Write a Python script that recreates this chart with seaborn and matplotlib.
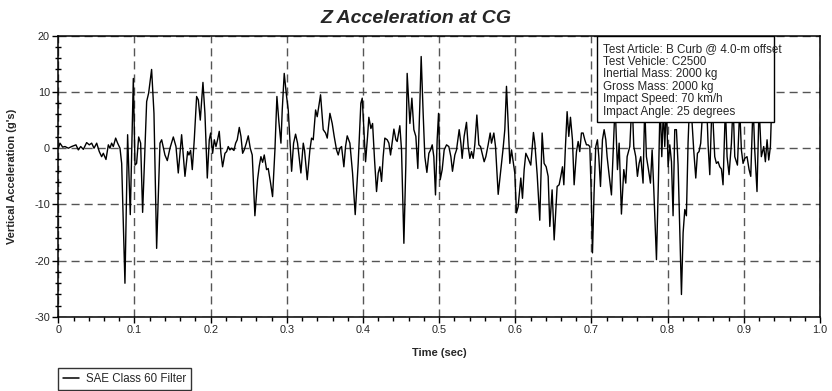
import numpy as np
import pandas as pd
import matplotlib
matplotlib.use("Agg")
import matplotlib.pyplot as plt
from matplotlib.patches import Rectangle
from matplotlib.ticker import MultipleLocator
import seaborn as sns

# ---------------- data ----------------
time_s = [
    0.0000, 0.0022, 0.0057, 0.0088, 0.0132, 0.0175, 0.0232, 0.0263, 0.0294, 0.0329,
    0.0372, 0.0407, 0.0438, 0.0469, 0.0504, 0.0538, 0.0569, 0.0591, 0.0626, 0.0657,
    0.0678, 0.0700, 0.0722, 0.0753, 0.0779, 0.0810, 0.0832, 0.0875, 0.0910, 0.0945,
    0.0985, 0.1007, 0.1028, 0.1055, 0.1081, 0.1107, 0.1160, 0.1186, 0.1225, 0.1256,
    0.1291, 0.1335, 0.1357, 0.1400, 0.1431, 0.1466, 0.1510, 0.1545,
    0.1575, 0.1619, 0.1663, 0.1698, 0.1715, 0.1737, 0.1759, 0.1785, 0.1816, 0.1838,
    0.1864, 0.1899, 0.1925, 0.1956, 0.1982, 0.2000, 0.2026, 0.2048, 0.2070, 0.2091,
    0.2113, 0.2135, 0.2157, 0.2188, 0.2210, 0.2231, 0.2253, 0.2275, 0.2306, 0.2328,
    0.2349, 0.2376, 0.2398, 0.2420, 0.2441, 0.2468, 0.2494, 0.2520, 0.2546, 0.2581,
    0.2616, 0.2638, 0.2660, 0.2682, 0.2704, 0.2734, 0.2756, 0.2787, 0.2813, 0.2844,
    0.2870, 0.2896, 0.2923, 0.2940, 0.2966, 0.2997, 0.3019, 0.3041, 0.3063, 0.3089,
    0.3115, 0.3141, 0.3185,
    0.3216, 0.3233, 0.3268, 0.3303, 0.3325, 0.3347, 0.3378, 0.3399, 0.3443, 0.3478,
    0.3509, 0.3531, 0.3566, 0.3596, 0.3622, 0.3653, 0.3675, 0.3697, 0.3719, 0.3749,
    0.3771, 0.3793, 0.3828, 0.3863, 0.3898, 0.3937, 0.3972, 0.3990, 0.4012, 0.4034,
    0.4060, 0.4077, 0.4104, 0.4126, 0.4152, 0.4178, 0.4200, 0.4222, 0.4244, 0.4265,
    0.4287, 0.4318, 0.4340, 0.4362, 0.4388, 0.4406, 0.4432, 0.4449, 0.4484, 0.4506,
    0.4537, 0.4563, 0.4580, 0.4616, 0.4642, 0.4668, 0.4694, 0.4720, 0.4747, 0.4764,
    0.4790, 0.4812, 0.4839,
    0.4865, 0.4887, 0.4909, 0.4930, 0.4952, 0.4974, 0.4992, 0.5014, 0.5040, 0.5066,
    0.5097, 0.5127, 0.5154, 0.5175, 0.5206, 0.5228, 0.5263, 0.5285, 0.5302, 0.5328,
    0.5359, 0.5381, 0.5403, 0.5425, 0.5447, 0.5468, 0.5495, 0.5521, 0.5543, 0.5565,
    0.5591, 0.5613, 0.5643, 0.5670, 0.5687, 0.5718, 0.5740, 0.5775, 0.5810, 0.5840,
    0.5862, 0.5884, 0.5906, 0.5928, 0.5950, 0.5972, 0.5993, 0.6015, 0.6037, 0.6072,
    0.6094, 0.6116, 0.6138, 0.6168, 0.6203, 0.6238, 0.6256, 0.6287, 0.6321, 0.6352,
    0.6378, 0.6405, 0.6431, 0.6453, 0.6483, 0.6510,
    0.6549, 0.6575, 0.6597, 0.6619, 0.6637, 0.6658, 0.6680, 0.6702, 0.6724, 0.6750,
    0.6772, 0.6803, 0.6825, 0.6846, 0.6868, 0.6890, 0.6912, 0.6934, 0.6956, 0.6978,
    0.6995, 0.7013, 0.7035, 0.7056, 0.7078, 0.7096, 0.7118, 0.7144, 0.7166, 0.7188,
    0.7205, 0.7231, 0.7262, 0.7284, 0.7310, 0.7341, 0.7363, 0.7393, 0.7424, 0.7450,
    0.7468, 0.7503, 0.7533, 0.7555, 0.7581, 0.7603, 0.7625, 0.7647, 0.7677, 0.7699,
    0.7721, 0.7748, 0.7774, 0.7796, 0.7818, 0.7853, 0.7879, 0.7901, 0.7923, 0.7944,
    0.7962, 0.7984, 0.8006, 0.8028, 0.8050, 0.8071, 0.8093, 0.8115,
    0.8137, 0.8159, 0.8181, 0.8203, 0.8225, 0.8246, 0.8268, 0.8290, 0.8316, 0.8342,
    0.8369, 0.8391, 0.8412, 0.8434, 0.8465, 0.8491, 0.8509, 0.8531, 0.8553, 0.8583,
    0.8618, 0.8640, 0.8662, 0.8684, 0.8706, 0.8727, 0.8758, 0.8780, 0.8806, 0.8837,
    0.8859, 0.8881, 0.8916, 0.8946, 0.8968, 0.8990, 0.9012, 0.9042, 0.9069, 0.9091,
    0.9121, 0.9143, 0.9173, 0.9200, 0.9230, 0.9261, 0.9283, 0.9305, 0.9327, 0.9349,
    0.9362,
]
accel_g = [
    0.0, 0.9, 0.2, 0.3, 0.0, 0.3, 0.6, -0.3, 0.3, -0.2,
    1.0, 0.6, 0.9, 0.0, 0.9, -0.6, -1.5, -0.9, -2.0, 0.6,
    0.0, 0.9, 0.3, 1.8, 0.9, 0.0, -2.7, -24.0, 2.4, -11.8,
    12.4, -3.0, -2.7, 2.0, 0.9, -11.4, 8.3, 9.8, 14.0, 6.2,
    -17.8, 0.9, 1.5, -1.2, -2.2, 0.0, 2.0, 0.3,
    -4.4, 2.4, -5.0, -0.6, -1.2, -0.4, -3.8, 1.5, 9.2, 8.6,
    5.0, 11.7, 6.2, -5.3, 1.5, 2.7, -0.9, 1.5, 0.3, 1.5,
    3.0, -0.9, -3.3, -0.9, -0.6, 0.3, -0.3, 0.0, -0.4, 0.9,
    1.5, 3.7, 2.1, -0.9, -0.3, 0.9, 2.2, 0.0, -1.2, -12.0,
    -5.6, -3.2, -1.5, -2.5, -1.2, -3.8, -3.6, -6.2, -8.6, -0.3,
    9.2, 4.7, 0.9, 6.8, 13.3, 9.2, 6.8, 1.5, -4.1, 0.9,
    2.5, 0.9, -4.4,
    0.9, -0.4, -5.6, -0.3, 1.8, 1.5, 6.8, 5.6, 9.5, 3.3,
    2.7, 1.8, 6.2, 4.4, 2.1, -0.3, -1.2, 0.0, 0.3, -3.3,
    0.3, 2.2, 0.9, -4.4, -11.8, -2.7, 8.0, 8.9, 3.3, -2.4,
    2.1, 5.5, 3.5, 4.4, -2.1, -7.7, -4.4, -3.3, -5.9, -1.5,
    1.8, 1.5, 0.9, -1.2, 1.5, 3.4, 1.5, 1.2, 4.0, -0.3,
    -16.9, -2.7, 13.3, 4.4, 8.9, 3.3, 2.1, -3.6, 8.0, 16.3,
    6.2, -1.5, -4.3,
    -0.9, -0.3, 0.6, -1.5, -8.3, 1.5, 6.2, -5.6, -3.8, -0.3,
    0.6, 0.3, -1.5, -4.1, -1.2, -0.3, 3.3, 0.9, -1.8, 2.1,
    4.6, 0.3, -1.8, -0.6, -1.8, 0.6, 5.9, 0.6, 0.3, -0.9,
    -2.4, -1.5, 0.6, 2.7, 0.9, 2.7, 0.3, -8.2, -3.8, 0.0,
    3.3, 11.0, 4.4, -2.7, -0.3, -2.4, -4.4, -11.5, -10.4, -5.3,
    -8.9, -3.8, -0.9, -1.8, -3.0, 2.8, 0.9, -4.7, -12.8, 2.7,
    -2.7, -3.3, -5.0, -13.9, -7.4, -16.3,
    -6.8, -6.5, -5.0, -3.3, -6.5, 0.3, 6.5, 2.1, 5.5, 1.5,
    -6.5, -0.6, 1.2, -0.6, 2.7, 2.7, 1.5, 0.6, 0.6, 0.3,
    -7.4, -18.6, -7.4, 0.3, 1.5, -1.5, -6.8, 1.5, 3.3, 1.5,
    -1.5, -4.7, -8.3, -0.9, 8.0, -3.8, 0.9, -11.7, -3.8, -6.2,
    -1.5, 0.3, 9.0, 0.3, -1.5, -5.0, -2.7, -1.5, -6.2, 7.5,
    -1.5, -3.8, -6.2, -0.3, -7.4, -19.8, -5.6, 8.5, -1.5, 7.0,
    0.3, 8.0, -3.3, 0.6, -2.4, -12.0, 3.3, 3.3,
    -3.0, -14.5, -26.0, -15.0, -10.9, -12.0, 1.0, 9.0, 5.5, -0.3,
    -5.3, -0.9, -0.6, 0.9, 8.0, 5.5, 9.0, 0.6, -4.7, 8.5,
    -1.5, -2.7, -2.4, -3.3, -3.7, -6.5, 7.5, -1.5, -4.7, 0.9,
    8.0, -1.5, -3.0, 7.0, -0.3, -2.7, -1.8, -1.5, -3.8, -5.0,
    8.0, -0.3, -7.7, 7.5, -1.5, 0.3, -2.4, 1.5, -2.1, 0.3,
    6.0,
]
series_label = "SAE Class 60 Filter"
title_text = "Z Acceleration at CG"
x_label = "Time (sec)"
y_label = "Vertical Acceleration (g's)"
info_lines = [
    "Test Article: B Curb @ 4.0-m offset",
    "Test Vehicle: C2500",
    "Inertial Mass: 2000 kg",
    "Gross Mass: 2000 kg",
    "Impact Speed: 70 km/h",
    "Impact Angle: 25 degrees",
]

df = pd.DataFrame({"t": time_s, "a": accel_g, "s": series_label})

# ---------------- style ----------------
sns.set_style("ticks")
plt.rcParams["font.family"] = ["Liberation Sans", "DejaVu Sans"]
plt.rcParams["axes.unicode_minus"] = False

W, H = 832, 391
fig = plt.figure(figsize=(W / 100, H / 100), dpi=100)
L, R, T, B = 58.3, 820.0, 35.7, 317.0
ax = fig.add_axes([L / W, 1 - B / H, (R - L) / W, (B - T) / H])

sns.lineplot(data=df, x="t", y="a", hue="s", palette=["black"], sort=False,
             estimator=None, linewidth=1.0, ax=ax, legend=False, zorder=3)

ax.set_xlim(0, 1.0)
ax.set_ylim(-30, 20)
ax.xaxis.set_major_locator(MultipleLocator(0.1))
ax.xaxis.set_minor_locator(MultipleLocator(0.02))
ax.yaxis.set_major_locator(MultipleLocator(10))
ax.yaxis.set_minor_locator(MultipleLocator(2))
ax.xaxis.set_major_formatter(matplotlib.ticker.FuncFormatter(lambda v, p: "0" if abs(v) < 1e-9 else f"{v:.1f}"))
ax.yaxis.set_major_formatter(matplotlib.ticker.FuncFormatter(lambda v, p: f"{v:.0f}"))

ax.grid(True, which="major", color="#555555", linewidth=1.0, linestyle=(0, (5.8, 3.6)), zorder=1)
ax.tick_params(which="major", direction="out", length=4, width=1, labelsize=7.8, color="black", pad=2)
ax.tick_params(axis="x", which="minor", direction="out", length=3, width=1, color="black")
ax.tick_params(axis="y", which="minor", direction="inout", length=5, width=1, color="black")
for sp in ax.spines.values():
    sp.set_visible(True)
    sp.set_color("black")
    sp.set_linewidth(1.1)

ax.set_xlabel(x_label, fontsize=8, fontweight="bold")
ax.set_ylabel(y_label, fontsize=8, fontweight="bold")
ax.xaxis.set_label_coords(0.5, (B - 348) / (B - T))
ax.yaxis.set_label_coords((17 - L) / (R - L), 0.5)

fig.text(416 / W, 1 - 18.5 / H, title_text, fontsize=14, fontweight="bold",
         fontstyle="italic", ha="center", va="center")

# info box
bx0 = (597.3 - L) / (R - L)
bx1 = (774.3 - L) / (R - L)
by0 = (B - 121.7) / (B - T)
ax.add_patch(Rectangle((bx0, by0), bx1 - bx0, 1 - by0, transform=ax.transAxes,
                       facecolor="white", edgecolor="black", linewidth=1.0, zorder=5))
for i, line in enumerate(info_lines):
    yc = 49.3 + 12.5 * i
    ax.text((602.7 - L) / (R - L), (B - yc) / (B - T), line,
            transform=ax.transAxes, fontsize=8.4, va="center", ha="left",
            zorder=6, clip_on=False)

# legend below the axes
handles = [matplotlib.lines.Line2D([], [], color="black", linewidth=1.1)]
leg = fig.legend(handles, [series_label], loc="lower left",
                 bbox_to_anchor=(L / W, 1.5 / H), fontsize=8.3, frameon=True,
                 fancybox=False, handlelength=1.4, borderpad=0.4, handletextpad=0.6,
                 borderaxespad=0)
leg.get_frame().set_edgecolor("black")
leg.get_frame().set_linewidth(1.0)

fig.savefig("out.png", dpi=100)
